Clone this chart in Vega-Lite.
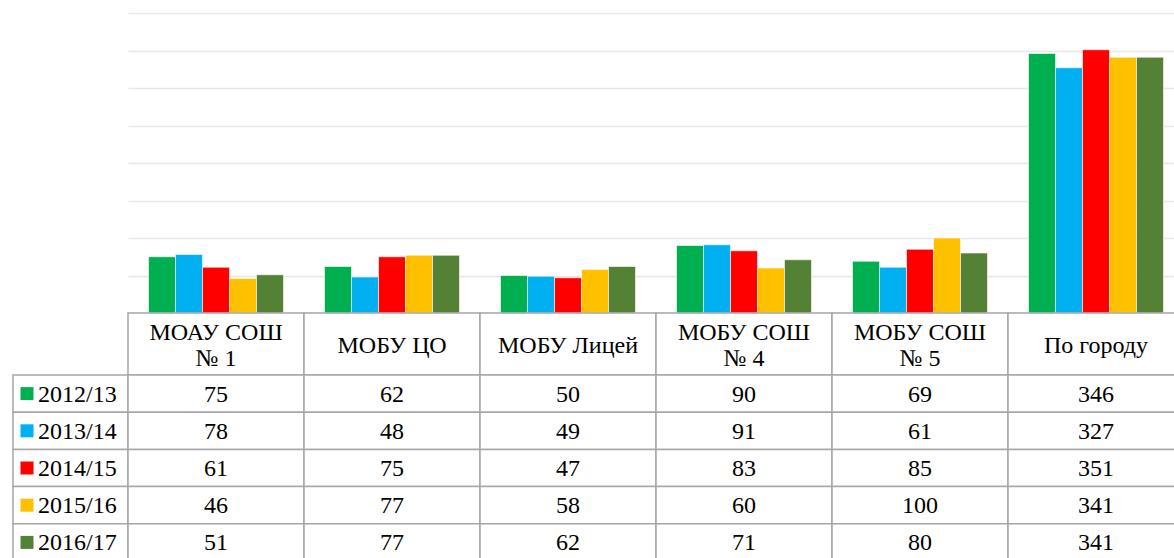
{
  "$schema": "https://vega.github.io/schema/vega-lite/v6.json",
  "padding": {"left": 12, "top": 13, "right": 0, "bottom": 0},
  "bounds": "flush",
  "spacing": 0,
  "columns": 2,
  "config": {
    "view": {"stroke": null},
    "font": "Times New Roman, Liberation Serif, serif",
    "concat": {"spacing": 0}
  },
  "datasets": {
    "vals": [
      {"cat": "МОАУ СОШ\n№ 1", "year": "2012/13", "value": 75},
      {"cat": "МОБУ ЦО", "year": "2012/13", "value": 62},
      {"cat": "МОБУ Лицей", "year": "2012/13", "value": 50},
      {"cat": "МОБУ СОШ\n№ 4", "year": "2012/13", "value": 90},
      {"cat": "МОБУ СОШ\n№ 5", "year": "2012/13", "value": 69},
      {"cat": "По городу", "year": "2012/13", "value": 346},
      {"cat": "МОАУ СОШ\n№ 1", "year": "2013/14", "value": 78},
      {"cat": "МОБУ ЦО", "year": "2013/14", "value": 48},
      {"cat": "МОБУ Лицей", "year": "2013/14", "value": 49},
      {"cat": "МОБУ СОШ\n№ 4", "year": "2013/14", "value": 91},
      {"cat": "МОБУ СОШ\n№ 5", "year": "2013/14", "value": 61},
      {"cat": "По городу", "year": "2013/14", "value": 327},
      {"cat": "МОАУ СОШ\n№ 1", "year": "2014/15", "value": 61},
      {"cat": "МОБУ ЦО", "year": "2014/15", "value": 75},
      {"cat": "МОБУ Лицей", "year": "2014/15", "value": 47},
      {"cat": "МОБУ СОШ\n№ 4", "year": "2014/15", "value": 83},
      {"cat": "МОБУ СОШ\n№ 5", "year": "2014/15", "value": 85},
      {"cat": "По городу", "year": "2014/15", "value": 351},
      {"cat": "МОАУ СОШ\n№ 1", "year": "2015/16", "value": 46},
      {"cat": "МОБУ ЦО", "year": "2015/16", "value": 77},
      {"cat": "МОБУ Лицей", "year": "2015/16", "value": 58},
      {"cat": "МОБУ СОШ\n№ 4", "year": "2015/16", "value": 60},
      {"cat": "МОБУ СОШ\n№ 5", "year": "2015/16", "value": 100},
      {"cat": "По городу", "year": "2015/16", "value": 341},
      {"cat": "МОАУ СОШ\n№ 1", "year": "2016/17", "value": 51},
      {"cat": "МОБУ ЦО", "year": "2016/17", "value": 77},
      {"cat": "МОБУ Лицей", "year": "2016/17", "value": 62},
      {"cat": "МОБУ СОШ\n№ 4", "year": "2016/17", "value": 71},
      {"cat": "МОБУ СОШ\n№ 5", "year": "2016/17", "value": 80},
      {"cat": "По городу", "year": "2016/17", "value": 341}
    ],
    "cats": [
      {"cat": "МОАУ СОШ\n№ 1"},
      {"cat": "МОБУ ЦО"},
      {"cat": "МОБУ Лицей"},
      {"cat": "МОБУ СОШ\n№ 4"},
      {"cat": "МОБУ СОШ\n№ 5"},
      {"cat": "По городу"}
    ],
    "years": [
      {"year": "2012/13"},
      {"year": "2013/14"},
      {"year": "2014/15"},
      {"year": "2015/16"},
      {"year": "2016/17"}
    ]
  },
  "concat": [
    {
      "width": 115,
      "height": 300,
      "data": {"values": []},
      "mark": "rect",
      "encoding": {}
    },
    {
      "width": 1056,
      "height": 300,
      "data": {"name": "vals"},
      "mark": {"type": "bar", "stroke": "white", "strokeWidth": 0.6},
      "encoding": {
        "x": {"field": "cat", "type": "nominal", "sort": null, "scale": {"paddingInner": 0.233, "paddingOuter": 0.1165}, "axis": null},
        "xOffset": {"field": "year", "type": "nominal", "sort": null, "scale": {"paddingInner": 0, "paddingOuter": 0}},
        "y": {
          "field": "value", "type": "quantitative",
          "scale": {"domain": [0, 400], "nice": false},
          "axis": {"values": [0, 50, 100, 150, 200, 250, 300, 350, 400], "labels": false, "ticks": false, "domain": false, "title": null, "grid": true, "gridColor": "#e8e8e8", "gridWidth": 1.5}
        },
        "color": {
          "field": "year", "type": "nominal", "legend": null,
          "scale": {"domain": ["2012/13", "2013/14", "2014/15", "2015/16", "2016/17"], "range": ["#00B050", "#00B0F0", "#FF0000", "#FFC000", "#548235"]}
        }
      }
    },
    {
      "width": 115,
      "height": 62,
      "data": {"values": []},
      "mark": "rect",
      "encoding": {}
    },
    {
      "width": 1056,
      "height": 62,
      "data": {"name": "cats"},
      "layer": [
        {
          "mark": {"type": "rect", "fill": "white", "stroke": "#a6a6a6", "strokeWidth": 1.5},
          "encoding": {
            "x": {"field": "cat", "type": "nominal", "sort": null, "scale": {"paddingInner": 0, "paddingOuter": 0}, "axis": null},
            "y": {"datum": "h", "type": "nominal", "scale": {"paddingInner": 0, "paddingOuter": 0}, "axis": null}
          }
        },
        {
          "transform": [{"filter": "indexof(datum.cat, '\\n') < 0"}],
          "mark": {"type": "text", "align": "center", "baseline": "middle", "fontSize": 24, "color": "black", "dy": 2},
          "encoding": {
            "x": {"field": "cat", "type": "nominal", "sort": null, "axis": null},
            "y": {"datum": "h", "type": "nominal", "axis": null},
            "text": {"field": "cat"}
          }
        },
        {
          "transform": [{"filter": "indexof(datum.cat, '\\n') >= 0"}],
          "mark": {"type": "text", "align": "center", "baseline": "middle", "lineBreak": "\n", "lineHeight": 26, "fontSize": 24, "color": "black", "dy": -11},
          "encoding": {
            "x": {"field": "cat", "type": "nominal", "sort": null, "axis": null},
            "y": {"datum": "h", "type": "nominal", "axis": null},
            "text": {"field": "cat"}
          }
        }
      ]
    },
    {
      "width": 115,
      "height": 186,
      "data": {"name": "years"},
      "layer": [
        {
          "mark": {"type": "rect", "fill": "white", "stroke": "#a6a6a6", "strokeWidth": 1.5},
          "encoding": {
            "x": {"datum": "c", "type": "nominal", "scale": {"paddingInner": 0, "paddingOuter": 0}, "axis": null},
            "y": {"field": "year", "type": "nominal", "sort": null, "scale": {"paddingInner": 0, "paddingOuter": 0}, "axis": null}
          }
        },
        {
          "mark": {"type": "point", "shape": "square", "filled": true, "size": 169, "opacity": 1, "xOffset": 14},
          "encoding": {
            "x": {"datum": "c", "type": "nominal", "bandPosition": 0, "axis": null},
            "y": {"field": "year", "type": "nominal", "sort": null, "axis": null},
            "color": {
              "field": "year", "type": "nominal", "legend": null,
              "scale": {"domain": ["2012/13", "2013/14", "2014/15", "2015/16", "2016/17"], "range": ["#00B050", "#00B0F0", "#FF0000", "#FFC000", "#548235"]}
            }
          }
        },
        {
          "mark": {"type": "text", "align": "left", "baseline": "middle", "dx": 25, "dy": 1, "fontSize": 24, "color": "black"},
          "encoding": {
            "x": {"datum": "c", "type": "nominal", "bandPosition": 0, "axis": null},
            "y": {"field": "year", "type": "nominal", "sort": null, "axis": null},
            "text": {"field": "year"}
          }
        }
      ]
    },
    {
      "width": 1056,
      "height": 186,
      "data": {"name": "vals"},
      "layer": [
        {
          "mark": {"type": "rect", "fill": "white", "stroke": "#a6a6a6", "strokeWidth": 1.5},
          "encoding": {
            "x": {"field": "cat", "type": "nominal", "sort": null, "scale": {"paddingInner": 0, "paddingOuter": 0}, "axis": null},
            "y": {"field": "year", "type": "nominal", "sort": null, "scale": {"paddingInner": 0, "paddingOuter": 0}, "axis": null}
          }
        },
        {
          "mark": {"type": "text", "align": "center", "baseline": "middle", "fontSize": 24, "color": "black", "dy": 1},
          "encoding": {
            "x": {"field": "cat", "type": "nominal", "sort": null, "axis": null},
            "y": {"field": "year", "type": "nominal", "sort": null, "axis": null},
            "text": {"field": "value", "type": "quantitative"}
          }
        }
      ]
    }
  ]
}
